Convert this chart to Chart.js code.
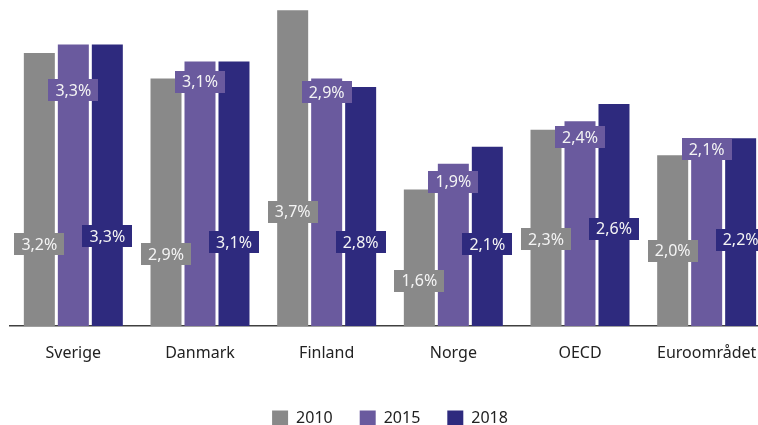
<!DOCTYPE html>
<html>
<head>
<meta charset="utf-8">
<script src="https://cdn.jsdelivr.net/npm/chart.js@4/dist/chart.umd.min.js"></script>
<style>
  html, body { margin: 0; padding: 0; background: #fff; overflow: hidden; }
  #wrap { width: 758px; height: 425px; overflow: hidden; }
</style>
</head>
<body>
<div id="wrap"><canvas id="myChart" width="770" height="436"></canvas></div>
<script>
// data
var categories = ["Sverige", "Danmark", "Finland", "Norge", "OECD", "Euroområdet"];
var series_names = ["2010", "2015", "2018"];
var values_2010 = [3.2, 2.9, 3.7, 1.6, 2.3, 2.0];
var values_2015 = [3.3, 3.1, 2.9, 1.9, 2.4, 2.1];
var values_2018 = [3.3, 3.1, 2.8, 2.1, 2.6, 2.2];

// where each value label sits (in y-axis units)
var label_at = [
    [0.96, 0.84, 1.34, 0.53, 1.02, 0.88],
    [2.76, 2.86, 2.74, 1.69, 2.21, 2.07],
    [1.05, 0.98, 0.98, 0.96, 1.14, 1.01]
];

var colors = ["#898989", "#6a5a9e", "#2e2a7e"];
var FONT = "'Noto Sans', 'Open Sans', sans-serif";

// draws the boxed value labels
const valueBoxes = {
    id: 'valueBoxes',
    afterDatasetsDraw: function (chart) {
        const ctx = chart.ctx;
        const yScale = chart.scales.y;
        ctx.save();
        ctx.font = "16px " + FONT;
        ctx.textAlign = "center";
        ctx.textBaseline = "middle";
        chart.data.datasets.forEach(function (ds, d) {
            const meta = chart.getDatasetMeta(d);
            meta.data.forEach(function (bar, i) {
                const txt = ds.data[i].toFixed(1).replace(".", ",") + "%";
                const w = ctx.measureText(txt).width + 14;
                const h = 22;
                const y = yScale.getPixelForValue(label_at[d][i]);
                ctx.fillStyle = ds.backgroundColor;
                ctx.fillRect(Math.round(bar.x - w / 2), Math.round(y - h / 2), Math.round(w), h);
                ctx.fillStyle = "#f4f4f4";
                ctx.fillText(txt, bar.x, y + 1);
            });
        });
        ctx.restore();
    }
};

const data = {
    labels: categories,
    datasets: [
        { label: series_names[0], data: values_2010, backgroundColor: colors[0] },
        { label: series_names[1], data: values_2015, backgroundColor: colors[1] },
        { label: series_names[2], data: values_2018, backgroundColor: colors[2] }
    ]
};

const config = {
    type: 'bar',
    data: data,
    options: {
        responsive: false,
        animation: false,
        layout: { padding: { left: 10, right: 0, top: 0, bottom: 0 } },
        datasets: {
            bar: { categoryPercentage: 0.805, barPercentage: 0.912 }
        },
        scales: {
            x: {
                grid: { display: false },
                border: { display: true, color: "#404040", width: 1.5 },
                ticks: { color: "#222", font: { family: FONT, size: 16 }, padding: 10 },
                afterFit: function (scale) { scale.height = 57; }
            },
            y: {
                display: false,
                min: 0,
                max: 3.82
            }
        },
        plugins: {
            tooltip: { enabled: false },
            legend: {
                position: 'bottom',
                labels: {
                    color: "#222",
                    font: { family: FONT, size: 16 },
                    boxWidth: 16,
                    boxHeight: 15,
                    padding: 27
                }
            }
        }
    },
    plugins: [valueBoxes]
};

const myChart = new Chart(document.getElementById('myChart'), config);
</script>
</body>
</html>
